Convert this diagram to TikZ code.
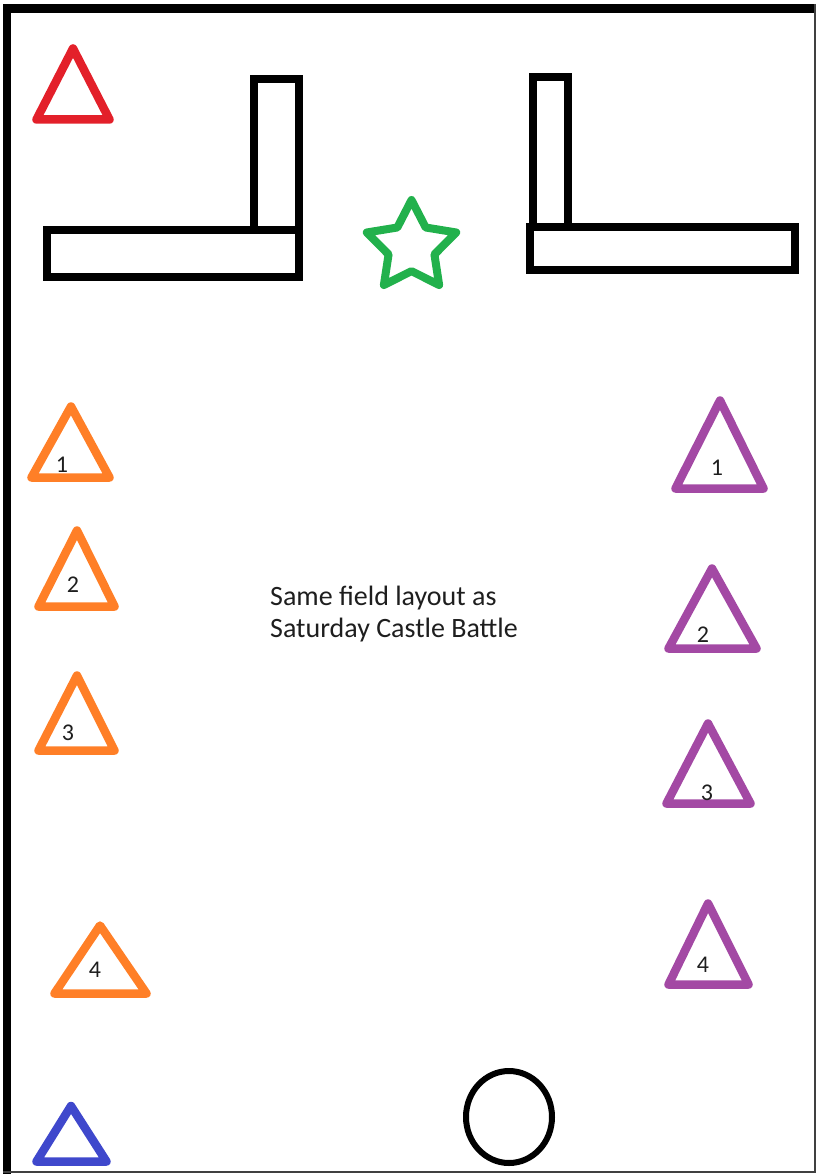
\documentclass[tikz,border=0pt]{standalone}
\usepackage{fontspec}
\setmainfont{Carlito}
\usetikzlibrary{shapes.geometric}
\definecolor{paintred}{HTML}{E3202A}
\definecolor{paintorange}{HTML}{FF7F27}
\definecolor{paintpurple}{HTML}{A349A4}
\definecolor{paintgreen}{HTML}{22B14C}
\definecolor{paintblue}{HTML}{3F48CC}
\definecolor{inkgray}{HTML}{1E1E1E}
\begin{document}
\begin{tikzpicture}[x=1pt,y=-1pt,
  cone/.style={line width=8.5pt,line join=round},
  wall/.style={line width=8pt,line join=miter},
  num/.style={inner sep=0pt,text=inkgray,font=\fontsize{24}{28}\selectfont}]
  \useasboundingbox (0,0) rectangle (817,1174);
  % bordes del campo
  \draw[line width=8.5pt] (7,1174) -- (7,8.5) -- (815,8.5);
  \draw[line width=1.5pt,black!75] (815,4) -- (815,1172) -- (3,1172);
  % muros en L
  \draw[wall] (254,79) rectangle (299,230);
  \draw[wall] (47,230) rectangle (299,277);
  \draw[wall] (532.5,77.5) rectangle (567.5,227.5);
  \draw[wall] (530,227.5) rectangle (795,270);
  % estrella y circulo
  \node[draw=paintgreen,star,star points=5,star point ratio=1.95,minimum size=94pt,
        inner sep=0pt,line width=8pt,line join=round] (flag) at (411.5,247) {};
  \draw[line width=6pt] (509,1117) ellipse [x radius=43,y radius=46];
  % bases
  \draw[cone,paintred]  (36.5,119.5) -- (73,48.5) -- (109.5,119.5) -- cycle;
  \draw[cone,paintblue] (36.5,1161.5) -- (71,1106) -- (106.5,1161.5) -- cycle;
  % conos naranjas
  \draw[cone,paintorange] (31.5,477.5) -- (71,406.5) -- (109.5,477.5) -- cycle;
  \draw[cone,paintorange] (38.5,606.5) -- (77,530.5) -- (114.5,606.5) -- cycle;
  \draw[cone,paintorange] (38.5,750.5) -- (77,675.5) -- (114.5,750.5) -- cycle;
  \draw[cone,paintorange] (54.5,993.5) -- (100,925.5) -- (146.5,993.5) -- cycle;
  \node[num] (o1) at (62,465) {1};
  \node[num] (o2) at (73,585) {2};
  \node[num] (o3) at (68,733) {3};
  \node[num] (o4) at (95,970) {4};
  % conos morados
  \draw[cone,paintpurple] (675.5,488.5) -- (720,400.5) -- (763.5,488.5) -- cycle;
  \draw[cone,paintpurple] (668.5,648.5) -- (712,568.5) -- (756.5,648.5) -- cycle;
  \draw[cone,paintpurple] (666.5,803.5) -- (708,723.5) -- (750.5,803.5) -- cycle;
  \draw[cone,paintpurple] (668.5,984.5) -- (708,903.5) -- (748.5,984.5) -- cycle;
  \node[num] (p1) at (717,468) {1};
  \node[num] (p2) at (703,635) {2};
  \node[num] (p3) at (707,793) {3};
  \node[num] (p4) at (703,965) {4};
  % nota
  \node[anchor=base west,align=left,inner sep=0pt,text=inkgray,
        font=\fontsize{28}{32}\selectfont] (note) at (270,637)
        {Same field layout as\\Saturday Castle Battle};
\end{tikzpicture}
\end{document}
